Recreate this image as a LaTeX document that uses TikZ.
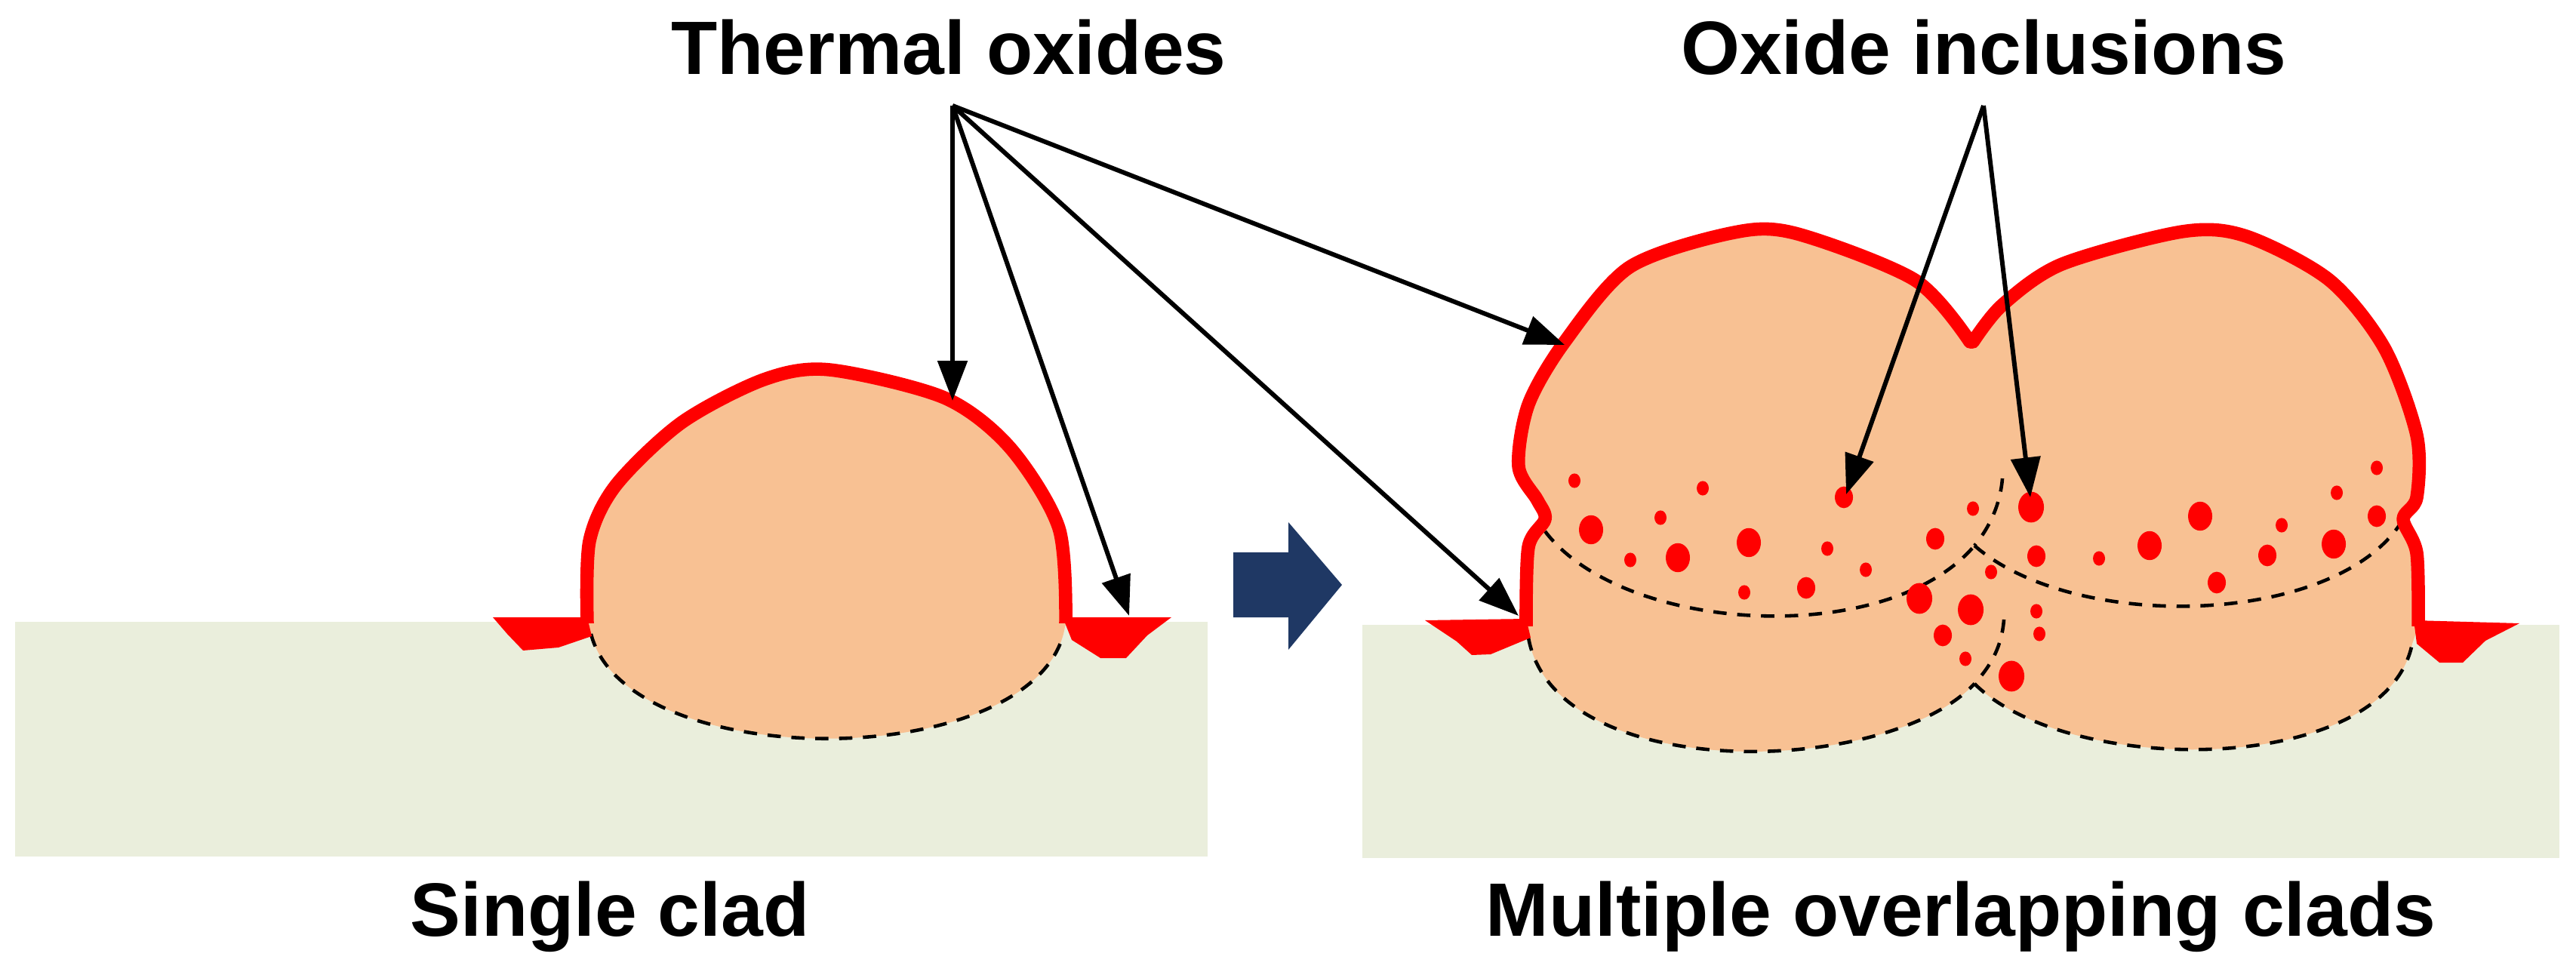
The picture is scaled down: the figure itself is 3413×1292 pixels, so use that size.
\documentclass[tikz,border=0pt]{standalone}
\usepackage{fontspec}
\setmainfont{Liberation Sans}
\usetikzlibrary{arrows.meta}
\definecolor{peach}{HTML}{F8C193}
\definecolor{oxred}{HTML}{FF0000}
\definecolor{subst}{HTML}{EAEEDC}
\definecolor{navy}{HTML}{1F3864}
\tikzset{
  lbl/.style={font=\bfseries\fontsize{28.5}{34}\selectfont, anchor=base, inner sep=0pt},
  ptr/.style={line width=1.7pt, -{Triangle[length=15pt,width=11pt]}},
  oxide/.style={draw=oxred, line width=5pt, line join=round},
  tab/.style={fill=oxred},
  fuse/.style={black, line width=1.3pt, dash pattern=on 5pt off 4pt},
  dot/.style={fill=oxred},
}
\begin{document}
\begin{tikzpicture}[x=0.01cm,y=-0.01cm]
\useasboundingbox (0,0) rectangle (3413,1292);
% substrates
\fill[subst] (20,824) rectangle (1600,1135);
\fill[subst] (1805,828) rectangle (3391,1137);
% ---- single clad
\fill[peach] plot[smooth] coordinates {(778,826)(781,717)(816,643)(903,560)(1012,503)(1099,490)(1251,527)(1338,593)(1403,700)(1412,826)}
  -- (1409,840) .. controls (1360,1025) and (830,1025) .. (783,840) -- cycle;
\draw[fuse] (783,840) .. controls (830,1025) and (1360,1025) .. (1409,840);
\draw[oxide] plot[smooth] coordinates {(778,826)(781,717)(816,643)(903,560)(1012,503)(1099,490)(1251,527)(1338,593)(1403,700)(1412,826)};
\fill[tab] (653,818) -- (778,818) -- (784,843) -- (740,858) -- (693,862) -- (672,840) -- cycle;
\fill[tab] (1408,818) -- (1552,818) -- (1520,842) -- (1492,872) -- (1458,872) -- (1420,848) -- cycle;
% ---- transition arrow
\fill[navy] (1634,732) -- (1707,732) -- (1707,692) -- (1778,775) -- (1707,861) -- (1707,818) -- (1634,818) -- cycle;
% ---- multiple clads
\fill[peach] plot[smooth] coordinates {(2022,830)(2025,725)(2047,688)(2037,663)(2012,618)(2025,536)(2073,453)(2159,354)(2293,309)(2378,309)(2537,371)(2610,453)}
  -- plot[smooth] coordinates {(2614,453)(2653,404)(2732,350)(2891,307)(2976,313)(3086,371)(3159,461)(3202,577)(3202,659)(3184,688)(3202,733)(3204,830)}
  -- (3196,853) .. controls (3160,1030) and (2740,1030) .. (2616,906)
  .. controls (2500,1030) and (2060,1040) .. (2025,845) -- cycle;
\draw[fuse] (2047,704) .. controls (2150,840) and (2500,860) .. (2616,723);
\draw[fuse] (2616,723) .. controls (2750,840) and (3100,830) .. (3184,688);
\draw[fuse] (2653,634) .. controls (2650,670) and (2635,700) .. (2616,723);
\draw[fuse] (2655,821) .. controls (2652,860) and (2635,885) .. (2616,906);
\draw[fuse] (2025,845) .. controls (2060,1040) and (2500,1030) .. (2616,906);
\draw[fuse] (2616,906) .. controls (2740,1030) and (3160,1030) .. (3196,853);
% inclusions
\foreach \x/\y/\r in {2086/637/8,2256/647/8,2443/659/12,2200/686/8,2108/702/16,2317/719/16,2223/739/16,2160/742/8,2421/727/8,2472/755/8,2311/785/8,2393/779/12,2564/714/12,2614/674/8,2691/672/17,2698/737/12,2638/758/8,2543/793/17,2611/808/17,2574/842/12,2698/810/8,2702/840/8,2604/873/8,2665/896/17,2781/740/8,2848/723/16,2915/684/16,2937/772/12,3004/736/12,3023/696/8,3092/721/16,3096/653/8,3149/620/8,3149/684/12}
  \fill[dot] (\x,\y) ellipse [x radius=\r, y radius=1.2*\r];
\draw[oxide] plot[smooth] coordinates {(2022,830)(2025,725)(2047,688)(2037,663)(2012,618)(2025,536)(2073,453)(2159,354)(2293,309)(2378,309)(2537,371)(2610,453)}
  -- plot[smooth] coordinates {(2614,453)(2653,404)(2732,350)(2891,307)(2976,313)(3086,371)(3159,461)(3202,577)(3202,659)(3184,688)(3202,733)(3204,830)};
\fill[tab] (1888,822) -- (2022,820) -- (2028,845) -- (1975,867) -- (1950,868) -- (1930,850) -- cycle;
\fill[tab] (3198,822) -- (3338,826) -- (3293,849) -- (3263,878) -- (3232,878) -- (3202,853) -- cycle;
% ---- labels and pointers
\node[lbl] (tox) at (1257,99) {Thermal oxides};
\node[lbl] (oxi) at (2628,99) {Oxide inclusions};
\node[lbl] (sgl) at (808,1240) {Single clad};
\node[lbl] (mul) at (2598,1240) {Multiple overlapping clads};
\coordinate (ta) at (1262,140);
\coordinate (t1) at (1262,531);
\coordinate (t2) at (1496,816);
\coordinate (t3) at (2073,457);
\coordinate (t4) at (2012,816);
\coordinate (oa) at (2628,140);
\coordinate (o1) at (2446,655);
\coordinate (o2) at (2690,659);
\foreach \e in {t1,t2,t3,t4} \draw[ptr] (ta) -- (\e);
\foreach \e in {o1,o2} \draw[ptr] (oa) -- (\e);
\end{tikzpicture}
\end{document}
